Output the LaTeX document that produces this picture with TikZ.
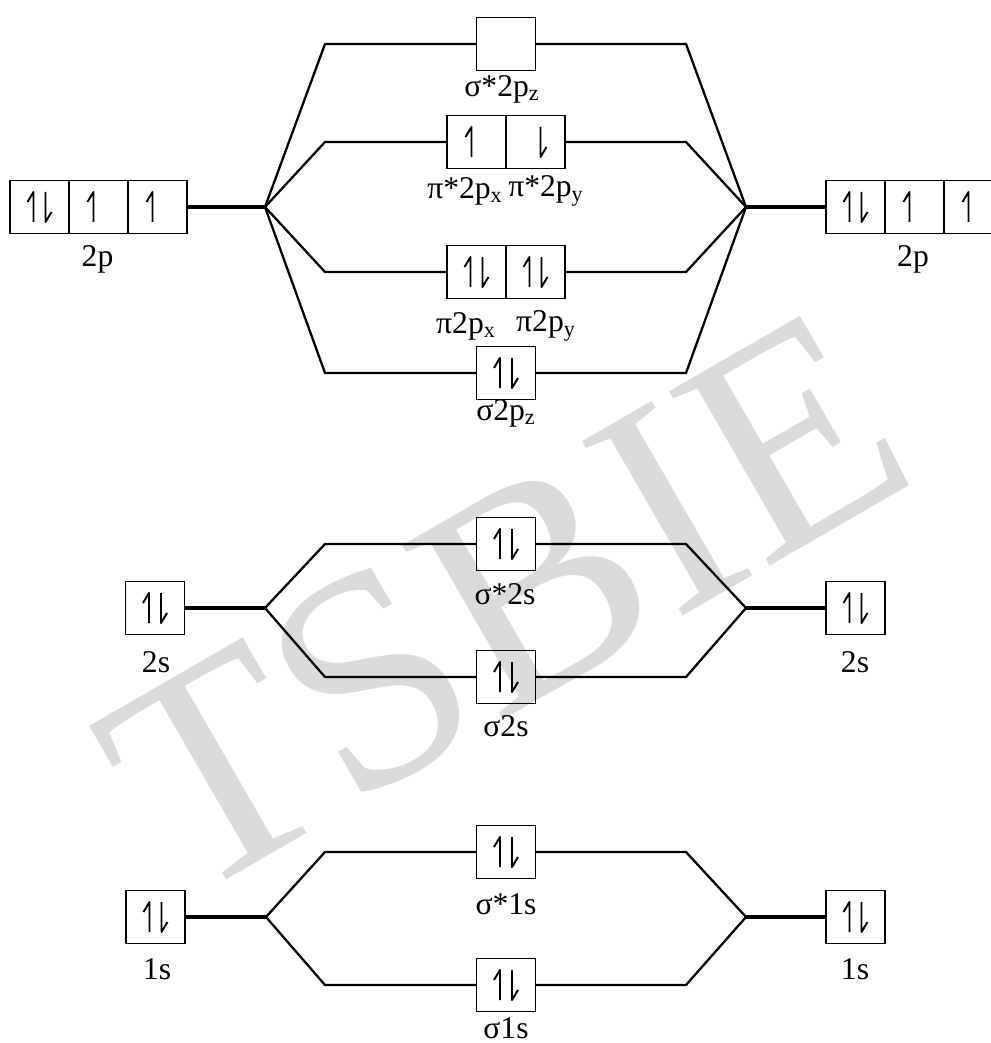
\documentclass[tikz,border=0pt]{standalone}
\usepackage{fontspec}
\setmainfont{Liberation Serif}
\usetikzlibrary{positioning,calc}

\begin{document}
\begin{tikzpicture}[x=0.02cm, y=-0.02cm,
  orb/.style={draw, line width=0.6pt, minimum width=1.18cm, minimum height=1.06cm, inner sep=0pt, outer sep=0pt},
  lbl/.style={font=\fontsize{18}{21}\selectfont, inner sep=0pt},
  conn/.style={line width=1.3pt, line join=miter},
  stub/.style={line width=1.9pt},
  elec/.style={line width=1.1pt, line join=round},
  wm/.style={font=\fontsize{175}{175}\selectfont, text=black!14, inner sep=0pt},
  spinup/.pic={\draw[elec] (0,15) -- (0,-15) -- (-6,-5);},
  spindn/.pic={\draw[elec] (0,-15) -- (0,15) -- (6,5);},
  spinpair/.pic={\pic at (-6,0) {spinup}; \pic at (6,0) {spindn};}
]
\useasboundingbox (0,0) rectangle (990,1043);
\def\ySz{44} \def\yPs{142} \def\yP{272} \def\yS{373} \def\yTp{207}
\def\yAs{544} \def\yTs{608} \def\yBs{677}
\def\yAo{852} \def\yTo{917} \def\yBo{985}

\node[wm, rotate=30, anchor=base] (wmark) at (555,690) {TSBIE};

% 2p level
\node[orb] (pLa) at (39.5,\yTp) {};
\node[orb, right=0pt of pLa] (pLb) {};
\node[orb, right=0pt of pLb] (pLc) {};
\node[orb] (pRa) at (855.5,\yTp) {};
\node[orb, right=0pt of pRa] (pRb) {};
\node[orb, right=0pt of pRb] (pRc) {};
\node[orb] (ssz) at (506,\ySz) {};
\node[orb] (pix) at (476.5,\yPs) {};
\node[orb, right=0pt of pix] (piy) {};
\node[orb] (px) at (476.5,\yP) {};
\node[orb, right=0pt of px] (py) {};
\node[orb] (sz) at (506,\yS) {};

\coordinate (jL) at (265,\yTp);
\coordinate (jR) at (746,\yTp);
\coordinate (kL) at (325,0);
\coordinate (kR) at (686,0);

\draw[stub] (pLc.east) -- (jL);
\draw[stub] (jR) -- (pRa.west);
\foreach \m in {ssz,pix,px,sz} \draw[conn] (jL) -- (kL |- \m.west) -- (\m.west);
\foreach \m in {ssz,piy,py,sz} \draw[conn] (\m.east) -- (kR |- \m.east) -- (jR);

\pic at (pLa) {spinpair};
\pic[xshift=-1mm] at (pLb) {spinup};
\pic[xshift=-1mm] at (pLc) {spinup};
\pic at (pRa) {spinpair};
\pic[xshift=-1mm] at (pRb) {spinup};
\pic[xshift=-1mm] at (pRc) {spinup};
\pic[xshift=-1mm] at (pix) {spinup};
\pic[xshift=1mm] at (piy) {spindn};
\pic at (px) {spinpair};
\pic at (py) {spinpair};
\pic at (sz) {spinpair};

\node[lbl] (tpL) at (97.5,259) {2p};
\node[lbl] (tpR) at (913,259) {2p};
\node[lbl] (tssz) at (502,89) {σ*2p\textsubscript{z}};
\node[lbl] (tpix) at (465,191) {π*2p\textsubscript{x}};
\node[lbl] (tpiy) at (546,191) {π*2p\textsubscript{y}};
\node[lbl] (tpx) at (466,326) {π2p\textsubscript{x}};
\node[lbl] (tpy) at (546,326) {π2p\textsubscript{y}};
\node[lbl] (tsz) at (506,413) {σ2p\textsubscript{z}};

% 2s level
\node[orb] (sL) at (155,\yTs) {};
\node[orb] (sR) at (855.5,\yTs) {};
\node[orb] (ass) at (506,\yAs) {};
\node[orb] (bs) at (506,\yBs) {};

\coordinate (jsL) at (265,\yTs);
\coordinate (jsR) at (746,\yTs);

\draw[stub] (sL.east) -- (jsL);
\draw[stub] (jsR) -- (sR.west);
\foreach \m in {ass,bs} {
  \draw[conn] (jsL) -- (kL |- \m.west) -- (\m.west);
  \draw[conn] (\m.east) -- (kR |- \m.east) -- (jsR);
}
\foreach \m in {sL,sR,ass,bs} \pic at (\m) {spinpair};

\node[lbl] (tsL) at (156,662) {2s};
\node[lbl] (tsR) at (855,662) {2s};
\node[lbl] (tass) at (505,594) {σ*2s};
\node[lbl] (tbs) at (506,726) {σ2s};

% 1s level
\node[orb] (oL) at (155.5,\yTo) {};
\node[orb] (oR) at (855.5,\yTo) {};
\node[orb] (aos) at (506,\yAo) {};
\node[orb] (bos) at (506,\yBo) {};

\coordinate (joL) at (266,\yTo);
\coordinate (joR) at (746,\yTo);

\draw[stub] (oL.east) -- (joL);
\draw[stub] (joR) -- (oR.west);
\foreach \m in {aos,bos} {
  \draw[conn] (joL) -- (kL |- \m.west) -- (\m.west);
  \draw[conn] (\m.east) -- (kR |- \m.east) -- (joR);
}
\foreach \m in {oL,oR,aos,bos} \pic at (\m) {spinpair};

\node[lbl] (toL) at (157,969) {1s};
\node[lbl] (toR) at (855,969) {1s};
\node[lbl] (taos) at (506,904) {σ*1s};
\node[lbl] (tbos) at (506,1028) {σ1s};
\end{tikzpicture}
\end{document}
